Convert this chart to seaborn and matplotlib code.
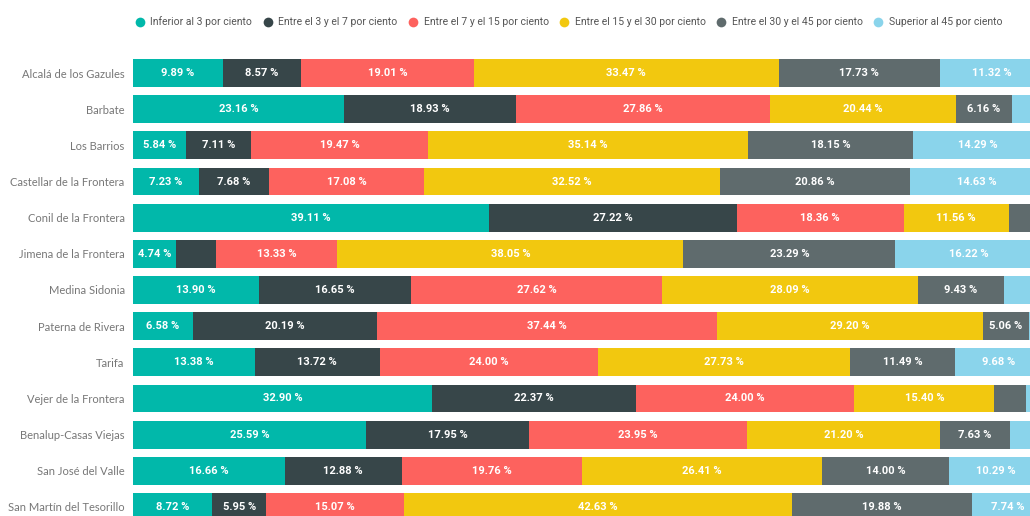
import matplotlib.pyplot as plt
import seaborn as sns
import pandas as pd
import numpy as np
from matplotlib import font_manager
from matplotlib.lines import Line2D

sns.set_theme(style="white")

municipios = [
    "Alcalá de los Gazules", "Barbate", "Los Barrios", "Castellar de la Frontera",
    "Conil de la Frontera", "Jimena de la Frontera", "Medina Sidonia",
    "Paterna de Rivera", "Tarifa", "Vejer de la Frontera", "Benalup-Casas Viejas",
    "San José del Valle", "San Martín del Tesorillo",
]

tramos = [
    "Inferior al 3 por ciento", "Entre el 3 y el 7 por ciento",
    "Entre el 7 y el 15 por ciento", "Entre el 15 y el 30 por ciento",
    "Entre el 30 y el 45 por ciento", "Superior al 45 por ciento",
]

inferior_3 = [9.89, 23.16, 5.84, 7.23, 39.11, 4.74, 13.90, 6.58, 13.38, 32.90, 25.59, 16.66, 8.72]
entre_3_7 = [8.57, 18.93, 7.11, 7.68, 27.22, 4.37, 16.65, 20.19, 13.72, 22.37, 17.95, 12.88, 5.95]
entre_7_15 = [19.01, 27.86, 19.47, 17.08, 18.36, 13.33, 27.62, 37.44, 24.00, 24.00, 23.95, 19.76, 15.07]
entre_15_30 = [33.47, 20.44, 35.14, 32.52, 11.56, 38.05, 28.09, 29.20, 27.73, 15.40, 21.20, 26.41, 42.63]
entre_30_45 = [17.73, 6.16, 18.15, 20.86, 3.75, 23.29, 9.43, 5.06, 11.49, 3.50, 7.63, 14.00, 19.88]
superior_45 = [11.32, 3.45, 14.29, 14.63, 0.00, 16.22, 4.31, 1.53, 9.68, 1.83, 3.68, 10.29, 7.74]

colores = ["#01B8AA", "#374649", "#FD625E", "#F2C80F", "#5F6B6D", "#8AD4EB"]

series = [inferior_3, entre_3_7, entre_7_15, entre_15_30, entre_30_45, superior_45]
df = pd.DataFrame({t: s for t, s in zip(tramos, series)})
df.insert(0, "Municipio", municipios)

# acumulados para apilar
cum = df[tramos].cumsum(axis=1)
for t in tramos:
    df["cum_" + t] = cum[t]

names = {f.name for f in font_manager.fontManager.ttflist}
narrow = "Liberation Sans Narrow" if "Liberation Sans Narrow" in names else "Roboto"

fig = plt.figure(figsize=(10.30, 5.16), dpi=100)
# el eje se sale por la derecha y por abajo, como en la captura recortada
ax = fig.add_axes([133 / 1030, -9 / 516, 910 / 1030, 470 / 516])

for t, c in reversed(list(zip(tramos, colores))):
    sns.barplot(data=df, x="cum_" + t, y="Municipio", order=municipios,
                color=c, saturation=1, width=0.77, linewidth=0,
                orient="h", ax=ax)

# etiquetas de datos centradas en cada segmento
for i, m in enumerate(municipios):
    left = 0
    for t in tramos:
        v = df.loc[i, t]
        if v >= 4.5:
            ax.text(left + v / 2, i, f"{v:.2f} %", ha="center", va="center",
                    color="white", fontsize=8, fontweight="bold",
                    family=narrow)
        left += v

ax.set_xlim(0, 100)
ax.set_ylim(12.5, -0.5)
ax.set_xlabel("")
ax.set_ylabel("")
ax.set_xticks([])
for s in ax.spines.values():
    s.set_visible(False)
ax.tick_params(axis="y", length=0, pad=6)
for lbl in ax.get_yticklabels():
    lbl.set_color("#777777")
    lbl.set_fontsize(8)
    lbl.set_family("Lato")

handles = [Line2D([0], [0], marker="o", linestyle="", markersize=7,
                  markerfacecolor=c, markeredgewidth=0) for c in colores]
fig.legend(handles, tramos, loc="center", bbox_to_anchor=(566 / 1030, 1 - 22 / 516),
           ncol=6, frameon=False, handletextpad=0.0, columnspacing=0.5,
           prop={"family": narrow, "size": 7.5}, labelcolor="#555555")

fig.savefig("out.png", dpi=100)
